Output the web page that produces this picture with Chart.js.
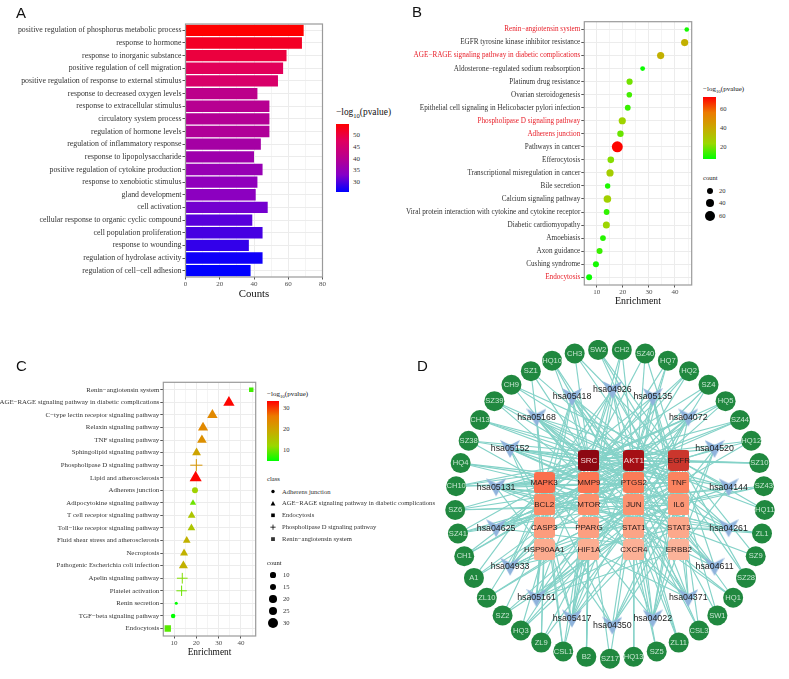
<!DOCTYPE html>
<html>
<head>
<meta charset="utf-8">
<title>Enrichment panels</title>
<script src="https://cdn.jsdelivr.net/npm/chart.js@4"></script>
<style>
  html, body { margin: 0; padding: 0; background: #fff; }
  #page { position: relative; width: 789px; height: 679px; overflow: hidden; }
  #page canvas { position: absolute; }
  .t { position: absolute; white-space: nowrap; line-height: 1; font-family: "Liberation Serif", serif; color: #222; transform: translateY(-50%); }
  .t sub { line-height: 0; font-size: .7em; }
  .bar { position: absolute; }
  svg { position: absolute; overflow: visible; }
</style>
</head>
<body>
<div id="page"></div>
<script>
// — Panel A
const goLabels = ['positive regulation of phosphorus metabolic process','response to hormone','response to inorganic substance','positive regulation of cell migration','positive regulation of response to external stimulus','response to decreased oxygen levels','response to extracellular stimulus','circulatory system process','regulation of hormone levels','regulation of inflammatory response','response to lipopolysaccharide','positive regulation of cytokine production','response to xenobiotic stimulus','gland development','cell activation','cellular response to organic cyclic compound','cell population proliferation','response to wounding','regulation of hydrolase activity','regulation of cell\u2212cell adhesion'];
const goCounts = [69,68,59,57,54,42,49,49,49,44,40,45,42,41,48,39,45,37,45,38];
const goPvalue = [54.7,52,50,48,46,41,40,39.5,39,37.5,36.5,35.5,34.5,34,32,30.5,29.5,28.5,26.5,25.7];

// — Panel B
const keggLabels = ['Renin\u2212angiotensin system','EGFR tyrosine kinase inhibitor resistance','AGE\u2212RAGE signaling pathway in diabetic complications','Aldosterone\u2212regulated sodium reabsorption','Platinum drug resistance','Ovarian steroidogenesis','Epithelial cell signaling in Helicobacter pylori infection','Phospholipase D signaling pathway','Adherens junction','Pathways in cancer','Efferocytosis','Transcriptional misregulation in cancer','Bile secretion','Calcium signaling pathway','Viral protein interaction with cytokine and cytokine receptor','Diabetic cardiomyopathy','Amoebiasis','Axon guidance','Cushing syndrome','Endocytosis'];
const keggEnrichment = [44.5,43.7,34.5,27.6,22.6,22.5,21.9,19.8,19.1,17.9,15.4,15.1,14.2,14.1,13.8,13.7,12.4,11.1,9.7,7.1];
const keggPvalue = [10,38,38,9,20,15,14,26,19,72,22,28,11,27,13,25,12,14,10,9];
const keggCounts = [6,32,32,8,22,16,18,32,24,70,26,32,14,36,18,30,18,20,20,20];
const keggHighlighted = ['Renin\u2212angiotensin system','AGE\u2212RAGE signaling pathway in diabetic complications','Phospholipase D signaling pathway','Adherens junction','Endocytosis'];

// — Panel C
const relLabels = ['Renin\u2212angiotensin system','AGE\u2212RAGE signaling pathway in diabetic complications','C\u2212type lectin receptor signaling pathway','Relaxin signaling pathway','TNF signaling pathway','Sphingolipid signaling pathway','Phospholipase D signaling pathway','Lipid and atherosclerosis','Adherens junction','Adipocytokine signaling pathway','T cell receptor signaling pathway','Toll\u2212like receptor signaling pathway','Fluid shear stress and atherosclerosis','Necroptosis','Pathogenic Escherichia coli infection','Apelin signaling pathway','Platelet activation','Renin secretion','TGF\u2212beta signaling pathway','Endocytosis'];
const relEnrichment = [44.6,34.6,27.2,23,22.5,20.1,20,19.7,19.4,18.5,17.9,17.8,15.7,14.5,14.2,13.7,13.4,11,9.6,7.2];
const relPvalue = [8,33,24,24,23,20,22,33,13,10,15,15,18,18,18,11,10,5,5,9];
const relCounts = [7,30,27,26,24,21,29,33,13,12,17,17,17,18,22,24,23,1,7,15];
const relClass = ['renin','age','age','age','age','age','pld','age','adherens','age','age','age','age','age','age','pld','pld','adherens','adherens','endo'];
const classNames = ['Adherens junction','AGE\u2212RAGE signaling pathway in diabetic complications','Endocytosis','Phospholipase D signaling pathway','Renin\u2212angiotensin system'];

// — Panel D
const herbNames = ['SZ17','HQ13','SZ5','ZL11','CSL3','SW1','HQ1','SZ28','SZ9','ZL1','HQ11','SZ43','SZ10','HQ12','SZ44','HQ5','SZ4','HQ2','HQ7','SZ40','CH2','SW2','CH3','HQ10','SZ1','CH9','SZ39','CH13','SZ38','HQ4','CH10','SZ6','SZ41','CH1','A1','ZL10','SZ2','HQ3','ZL9','CSL1','B2'];
const herbLinks = [
  ['MTOR','JUN'],['JUN','CXCR4'],['CXCR4','STAT1'],['PTGS2','STAT1','JUN'],['TNF','JUN','PTGS2'],['TNF','AKT1'],['AKT1','MMP9','STAT1'],['EGFR','TNF'],['EGFR','STAT3'],['STAT3','MTOR','BCL2'],['EGFR','AKT1'],['IL6','CASP3','BCL2'],['EGFR','AKT1','SRC'],['TNF','SRC','MMP9'],['SRC','AKT1','BCL2'],['PTGS2','MMP9','MAPK3'],['JUN','MTOR','SRC'],['AKT1','MMP9','BCL2'],['AKT1','PTGS2','MMP9'],['EGFR','JUN','SRC'],['AKT1','SRC','PPARG'],['TNF','EGFR','STAT3'],['SRC','EGFR','IL6'],['SRC','PTGS2','JUN'],['SRC','AKT1','MAPK3'],['MMP9','AKT1','EGFR'],['PTGS2','TNF','MMP9'],['AKT1','SRC','TNF'],['SRC','MAPK3','EGFR'],['MMP9','PTGS2','JUN'],['AKT1','TNF','SRC','MAPK3'],['AKT1','MTOR','PTGS2','IL6'],['SRC','PTGS2','TNF','JUN'],['SRC','AKT1','MMP9'],['MAPK3','AKT1','PTGS2'],['BCL2','JUN','TNF'],['CASP3','STAT1','EGFR'],['HSP90AA1','JUN','AKT1','TNF'],['HSP90AA1','CASP3','HIF1A','EGFR'],['MAPK3','BCL2','HIF1A','MMP9'],['MMP9','MTOR','PPARG','HIF1A']
];
const pathwayNames = ['hsa04926','hsa05135','hsa04072','hsa04520','hsa04144','hsa04261','hsa04611','hsa04371','hsa04022','hsa04350','hsa05417','hsa05161','hsa04933','hsa04625','hsa05131','hsa05152','hsa05168','hsa05418'];
const pathwayLinks = [
  ['AKT1','JUN','MAPK3','MTOR','SRC','BCL2','IL6'],['AKT1','TNF','IL6','JUN','MAPK3','CASP3','STAT3'],['SRC','AKT1','EGFR','MAPK3','MTOR','JUN','STAT1','HIF1A'],['SRC','EGFR','ERBB2','STAT3','CXCR4'],['SRC','AKT1','EGFR','MTOR','HSP90AA1','ERBB2'],['AKT1','SRC','MAPK3','CASP3','JUN','TNF'],['SRC','AKT1','MAPK3','JUN','PTGS2','EGFR'],['SRC','AKT1','EGFR','MAPK3','HIF1A','STAT3','MTOR','JUN'],['SRC','AKT1','EGFR','MAPK3','TNF','STAT3','ERBB2','JUN'],['TNF','IL6','STAT3','MAPK3','PTGS2','CASP3'],['SRC','AKT1','MMP9','TNF','IL6','JUN','BCL2','PPARG','HIF1A','CASP3'],['AKT1','SRC','EGFR','TNF','JUN','STAT1','STAT3','CASP3','BCL2','ERBB2','MAPK3'],['AKT1','MAPK3','MMP9','STAT3','JUN','TNF','IL6','BCL2','CASP3'],['SRC','AKT1','EGFR','MMP9','PTGS2','MTOR','ERBB2'],['SRC','AKT1','EGFR','TNF','MAPK3','JUN','IL6','STAT1','STAT3','CXCR4','HSP90AA1'],['AKT1','SRC','TNF','IL6','MMP9','BCL2','CASP3','JUN'],['AKT1','SRC','EGFR','MAPK3','PTGS2','JUN','CASP3','STAT1','STAT3','MMP9'],['AKT1','SRC','TNF','JUN','MAPK3','BCL2','MTOR','HSP90AA1','PTGS2']
];
const geneRows = [['','SRC','AKT1','EGFR'],['MAPK3','MMP9','PTGS2','TNF'],['BCL2','MTOR','JUN','IL6'],['CASP3','PPARG','STAT1','STAT3'],['HSP90AA1','HIF1A','CXCR4','ERBB2']];
const geneColors = [['','#8d0812','#a50f15','#cb362d'],['#fb6f4e','#fb7653','#fb7c58','#fb835f'],['#fc8a66','#fc8f6c','#fc9270','#fc9777'],['#fc9c7d','#fc9f81','#fca486','#fca88b'],['#fcab8f','#fcae92','#fcb096','#fcb39a']];

// legend tick labels
const ticksA = [50,45,40,35,30];
const ticksB = [60,40,20];
const ticksC = [30,20,10];
const countsB = [20,40,60];
const countsC = [10,15,20,25,30];

const blueRed = ['#0000ff','#8500c8','#b8008f','#e00060','#ff0000'];
const greenRed = ['#00ff00','#9ad800','#c9a900','#ec7a00','#ff0000'];
const serif = '"Liberation Serif", serif';
const sans = '"Liberation Sans", Arial, sans-serif';
const page = document.getElementById('page');

function hex(c) {
    return [1, 3, 5].map(i => parseInt(c.substr(i, 2), 16));
}
function ramp(stops, lo, hi, v) {
    const t = Math.min(1, Math.max(0, (v - lo) / (hi - lo))) * (stops.length - 1);
    const i = Math.min(stops.length - 2, Math.floor(t));
    const a = hex(stops[i]), b = hex(stops[i + 1]);
    return 'rgb(' + a.map((x, k) => Math.round(x + (b[k] - x) * (t - i))).join(',') + ')';
}

// box around the plot, ggplot panel.border style
const panelBorder = {
    id: 'panelBorder',
    afterDatasetsDraw(chart) {
        const a = chart.chartArea, ctx = chart.ctx;
        ctx.save();
        ctx.strokeStyle = '#9a9a9a';
        ctx.lineWidth = 1.2;
        ctx.strokeRect(a.left, a.top, a.right - a.left, a.bottom - a.top);
        ctx.restore();
    }
};

function addCanvas(x, y, w, h) {
    const c = document.createElement('canvas');
    c.width = w; c.height = h;
    c.style.left = x + 'px'; c.style.top = y + 'px';
    c.style.width = w + 'px'; c.style.height = h + 'px';
    page.appendChild(c);
    return c;
}

function text(x, y, s, size, extra) {
    const d = document.createElement('div');
    d.className = 't';
    d.style.left = x + 'px'; d.style.top = y + 'px'; d.style.fontSize = size + 'px';
    Object.assign(d.style, extra || {});
    d.innerHTML = s;
    page.appendChild(d);
}

function colorBar(x, top, w, h, stops, ticks, tickY, titleY, titleSize, tickSize) {
    const b = document.createElement('div');
    b.className = 'bar';
    b.style.cssText = `left:${x}px;top:${top}px;width:${w}px;height:${h}px;background:linear-gradient(to top,${stops.join(',')})`;
    page.appendChild(b);
    ticks.forEach((v, i) => text(x + w + 4, tickY[i], String(v), tickSize, { color: '#333' }));
    text(x, titleY, '\u2212log<sub>10</sub>(pvalue)', titleSize, { color: '#111' });
}

function dot(cx, cy, r) {
    const d = document.createElement('div');
    d.style.cssText = `position:absolute;left:${cx - r}px;top:${cy - r}px;width:${2 * r}px;height:${2 * r}px;border-radius:50%;background:#000`;
    page.appendChild(d);
}

function classSymbol(kind, cx, cy) {
    const shapes = {
        0: `<circle cx="${cx}" cy="${cy}" r="1.7" fill="#000"/>`,
        1: `<polygon points="${cx - 2.4},${cy + 2} ${cx + 2.4},${cy + 2} ${cx},${cy - 2.3}" fill="#000"/>`,
        2: `<rect x="${cx - 1.8}" y="${cy - 1.8}" width="3.6" height="3.6" fill="#000"/>`,
        3: `<path d="M${cx - 2.6} ${cy}H${cx + 2.6}M${cx} ${cy - 2.6}V${cy + 2.6}" stroke="#000" stroke-width=".8"/>`,
        4: `<rect x="${cx - 1.9}" y="${cy - 1.9}" width="3.8" height="3.8" fill="#333"/>`
    };
    page.insertAdjacentHTML('beforeend', `<svg width="1" height="1" style="left:0;top:0">${shapes[kind]}</svg>`);
}

// — the shared ggplot-ish axes
function xAxis(min, max, step, labelEvery, title, titleSize, bottomH) {
    return {
        type: 'linear', min, max,
        ticks: {
            stepSize: step, includeBounds: false, autoSkip: false, maxRotation: 0, padding: 0,
            color: '#4d4d4d', font: { family: serif, size: 7 },
            callback: v => (v % labelEvery === 0 ? String(v) : '')
        },
        grid: {
            color: ctx => (ctx.tick && ctx.tick.value % labelEvery === 0 ? '#ececec' : '#f4f4f4'),
            tickColor: ctx => (ctx.tick && ctx.tick.value % labelEvery === 0 ? '#555' : 'rgba(0,0,0,0)'),
            tickLength: 2.5
        },
        border: { display: false },
        title: { display: true, text: title, color: '#111', padding: 0, font: { family: serif, size: titleSize } },
        afterFit: s => { s.height = bottomH; }
    };
}

function baseOptions(top, right) {
    return {
        responsive: false, animation: false, events: [],
        layout: { padding: { top, right, left: 0, bottom: 0 } },
        plugins: { legend: { display: false }, tooltip: { enabled: false } }
    };
}

function yLinear(labels, leftW, size, colorFn) {
    return {
        type: 'linear', min: -0.6, max: labels.length - 0.4, reverse: true,
        ticks: {
            stepSize: 1, includeBounds: false, autoSkip: false, padding: 1,
            color: colorFn || '#333', font: { family: serif, size },
            callback: v => labels[v]
        },
        grid: { color: '#ececec', tickColor: '#555', tickLength: 3 },
        border: { display: false },
        afterFit: s => { s.width = leftW; }
    };
}

// — Panel A: bars
new Chart(addCanvas(0, 0, 335, 301), {
    type: 'bar',
    data: {
        labels: goLabels,
        datasets: [{
            data: goCounts,
            backgroundColor: goPvalue.map(v => ramp(blueRed, 25.7, 54.7, v)),
            barPercentage: 0.9, categoryPercentage: 1
        }]
    },
    options: {
        ...baseOptions(24, 12.5),
        indexAxis: 'y',
        scales: {
            x: xAxis(0, 80, 10, 20, 'Counts', 10.8, 24),
            y: {
                ticks: { autoSkip: false, padding: 1, color: '#333', font: { family: serif, size: 7.85 } },
                grid: { offset: false, color: '#ececec', tickColor: '#555', tickLength: 3 },
                border: { display: false },
                afterFit: s => { s.width = 185.5; }
            }
        }
    },
    plugins: [panelBorder]
});

// — Panel B: dots
new Chart(addCanvas(400, 0, 300, 307), {
    type: 'bubble',
    data: {
        datasets: [{
            data: keggEnrichment.map((x, i) => ({ x, y: i, r: 2 + keggCounts[i] / 20 })),
            backgroundColor: keggPvalue.map(v => ramp(greenRed, 8, 72.5, v)),
            borderWidth: 0
        }]
    },
    options: {
        ...baseOptions(21.7, 8.3),
        scales: {
            x: xAxis(5.25, 46.4, 5, 10, 'Enrichment', 9.9, 22),
            y: yLinear(keggLabels, 184.3, 7.2, ctx => (keggHighlighted.includes(keggLabels[ctx.tick.value]) ? '#e8202a' : '#333'))
        }
    },
    plugins: [panelBorder]
});

// — Panel C: shapes by class
const relStyle = { adherens: 'circle', age: 'triangle', endo: 'rect', pld: 'cross', renin: 'rect' };
const relScale = { adherens: 1, age: 1.3, endo: 1.4, pld: 1.25, renin: 1.4 };
new Chart(addCanvas(0, 350, 265, 308), {
    type: 'scatter',
    data: {
        datasets: [{
            data: relEnrichment.map((x, i) => ({ x, y: i })),
            pointStyle: relClass.map(c => relStyle[c]),
            pointRadius: relCounts.map((c, i) => (1.4 + c * 0.12) * relScale[relClass[i]]),
            pointBackgroundColor: relPvalue.map(v => ramp(greenRed, 5, 33.3, v)),
            pointBorderColor: relPvalue.map(v => ramp(greenRed, 5, 33.3, v)),
            pointBorderWidth: relClass.map(c => (c === 'pld' ? 1 : 0))
        }]
    },
    options: {
        ...baseOptions(32.3, 9.3),
        scales: {
            x: xAxis(5.2, 46.6, 5, 10, 'Enrichment', 9.4, 22),
            y: yLinear(relLabels, 163.3, 6.9)
        }
    },
    plugins: [panelBorder]
});

// — Panel D: network, laid out in page pixels
function ring(cx, cy, r, step, start, i) {
    const a = start + i * step;
    return { x: cx + r * Math.sin(a), y: cy - r * Math.cos(a) };
}
const pos = {};
herbNames.forEach((n, i) => { pos[n] = ring(610, 504, 164, -2 * Math.PI / herbNames.length, Math.PI, i); });
pathwayNames.forEach((n, i) => { pos[n] = ring(612.5, 508, 125, 2 * Math.PI / pathwayNames.length, 0, i); });
const geneX = [540.3, 587.7, 635.3, 683], geneY = [457.7, 481.3, 505, 529, 552.7];
const geneList = [], geneStyle = [];

function geneTile(color) {
    const c = document.createElement('canvas');
    c.width = 21; c.height = 21;
    const g = c.getContext('2d');
    g.fillStyle = color;
    g.beginPath();
    g.roundRect(0, 0, 21, 21, 3);
    g.fill();
    return c;
}
geneRows.forEach((row, r) => row.forEach((g, c) => {
    if (g) {
        pos[g] = { x: geneX[c], y: geneY[r] };
        geneList.push(g);
        geneStyle.push(geneTile(geneColors[r][c]));
    }
}));

const edgeSets = [];
function pushEdges(names, links) {
    names.forEach((n, i) => links[i].forEach(g => {
        edgeSets.push({ data: [pos[n], pos[g]], showLine: true, borderColor: '#84d2c8', borderWidth: 1.15, pointRadius: 0, order: 5 });
    }));
}
pushEdges(herbNames, herbLinks);
pushEdges(pathwayNames, pathwayLinks);

const vee = document.createElement('canvas');
vee.width = 20; vee.height = 20;
const vctx = vee.getContext('2d');
vctx.fillStyle = '#8fb3dc';
vctx.beginPath();
vctx.moveTo(0, 1); vctx.lineTo(10, 6); vctx.lineTo(20, 1); vctx.lineTo(10, 19);
vctx.closePath();
vctx.fill();

// node captions sit on top of everything
const nodeLabels = {
    id: 'nodeLabels',
    afterDatasetsDraw(chart) {
        const ctx = chart.ctx, sx = chart.scales.x, sy = chart.scales.y;
        ctx.save();
        ctx.textAlign = 'center';
        ctx.textBaseline = 'middle';
        const draw = (names, font, color) => names.forEach(n => {
            ctx.font = font;
            ctx.fillStyle = typeof color === 'function' ? color(n) : color;
            ctx.fillText(n, sx.getPixelForValue(pos[n].x), sy.getPixelForValue(pos[n].y));
        });
        draw(herbNames, '7.6px ' + sans, '#c8e6d2');
        draw(geneList, '8px ' + sans, n => (n === 'SRC' || n === 'AKT1' ? '#f3d5d5' : '#2a1a1a'));
        draw(pathwayNames, '8.8px ' + sans, '#1c1c1c');
        ctx.restore();
    }
};

new Chart(addCanvas(430, 330, 359, 349), {
    type: 'scatter',
    data: {
        datasets: [
            {
                data: herbNames.map(n => pos[n]), pointStyle: 'circle', pointRadius: 10,
                pointBackgroundColor: '#20883f', pointBorderWidth: 0, order: 1
            },
            {
                data: geneList.map(n => pos[n]), pointStyle: geneStyle, order: 1
            },
            {
                data: pathwayNames.map(n => pos[n]), pointStyle: vee, order: 1
            },
            ...edgeSets
        ]
    },
    options: {
        responsive: false, animation: false, events: [],
        layout: { padding: 0 },
        plugins: { legend: { display: false }, tooltip: { enabled: false } },
        scales: {
            x: { type: 'linear', min: 430, max: 789, display: false },
            y: { type: 'linear', min: 330, max: 679, reverse: true, display: false }
        }
    },
    plugins: [nodeLabels]
});

// — Panel letters
text(16, 12, 'A', 15, { fontFamily: sans, color: '#111' });
text(412, 11, 'B', 15, { fontFamily: sans, color: '#111' });
text(16, 365, 'C', 15, { fontFamily: sans, color: '#111' });
text(417, 365, 'D', 15, { fontFamily: sans, color: '#111' });

// — Legends
colorBar(336, 124, 13, 68, blueRed, ticksA, [135, 147, 159, 170, 182], 113, 9.4, 7);

colorBar(703, 97, 13, 62, greenRed, ticksB, [109, 128, 147], 89, 7, 6.6);
text(703, 178, 'count', 6.6);
countsB.forEach((c, i) => {
    const y = 190.5 + i * 12.6;
    dot(709.5, y, 2 + c / 20);
    text(719, y, String(c), 6.6, { color: '#333' });
});

colorBar(267, 401, 12, 59.7, greenRed, ticksC, [408, 429, 450], 394, 7, 6.6);
text(267, 479, 'class', 6.6);
classNames.forEach((n, i) => {
    const y = 491.5 + i * 11.9;
    classSymbol(i, 273, y);
    text(282, y, n, 6.6, { color: '#333' });
});
text(267, 563, 'count', 6.6);
countsC.forEach((c, i) => {
    const y = 575 + i * 12;
    dot(273, y, 1.4 + c * 0.12);
    text(283, y, String(c), 6.6, { color: '#333' });
});
</script>
</body>
</html>
